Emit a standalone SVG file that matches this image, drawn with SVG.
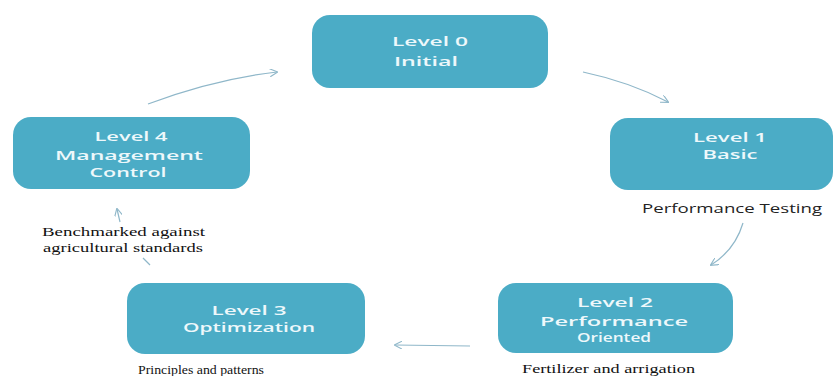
<svg xmlns="http://www.w3.org/2000/svg" width="837" height="376" viewBox="0 0 837 376">
<defs>
<style>
.box{fill:#4bacc6;}
.nt{font-family:"Open Sans","DejaVu Sans",sans-serif;font-weight:600;font-size:13px;fill:#eef8fb;text-anchor:middle;}
.lbl{font-family:"Liberation Serif","DejaVu Serif",serif;font-size:12px;fill:#111;}
.lbls{font-family:"Open Sans","DejaVu Sans",sans-serif;font-size:12px;fill:#222;}
.con{fill:none;stroke:#8fb7c9;stroke-width:1.2;marker-end:url(#ah);}
</style>
<marker id="ah" viewBox="0 0 10 10" refX="9" refY="5" markerWidth="8" markerHeight="8" orient="auto" markerUnits="userSpaceOnUse">
<path d="M0,0 L10,5 L0,10" fill="none" stroke="#8fb7c9" stroke-width="1.4"/>
</marker>
</defs>
<rect width="837" height="376" fill="#ffffff"/>
<g id="connectors">
<path class="con" d="M148,104 Q215,79 277,72"/>
<path class="con" d="M583,72 Q630,82 668,102"/>
<path class="con" d="M743,223 Q735,250 711,265"/>
<path class="con" d="M470,346 L395,345"/>
<path d="M143,258 L150,265" fill="none" stroke="#8fb7c9" stroke-width="1.2"/>
<path class="con" d="M120,222 L117,209"/>
</g>
<g id="level0">
<rect class="box" x="312" y="15" width="236" height="73" rx="18"/>
<text class="nt" x="430" y="46" textLength="76" lengthAdjust="spacingAndGlyphs">Level 0</text>
<text class="nt" x="426" y="66" textLength="64" lengthAdjust="spacingAndGlyphs">Initial</text>
</g>
<g id="level1">
<rect class="box" x="610" y="118" width="223" height="72" rx="18"/>
<text class="nt" x="730" y="142" textLength="74" lengthAdjust="spacingAndGlyphs">Level 1</text>
<text class="nt" x="730" y="159" textLength="55" lengthAdjust="spacingAndGlyphs">Basic</text>
</g>
<g id="level2">
<rect class="box" x="498" y="283" width="235" height="70" rx="18"/>
<text class="nt" x="615" y="307" textLength="76" lengthAdjust="spacingAndGlyphs">Level 2</text>
<text class="nt" x="614" y="326" textLength="148" lengthAdjust="spacingAndGlyphs">Performance</text>
<text class="nt" x="614" y="342" textLength="74" lengthAdjust="spacingAndGlyphs">Oriented</text>
</g>
<g id="level3">
<rect class="box" x="127" y="283" width="238" height="71" rx="18"/>
<text class="nt" x="249" y="315" textLength="75" lengthAdjust="spacingAndGlyphs">Level 3</text>
<text class="nt" x="249" y="332" textLength="132" lengthAdjust="spacingAndGlyphs">Optimization</text>
</g>
<g id="level4">
<rect class="box" x="13" y="117" width="237" height="72" rx="18"/>
<text class="nt" x="131" y="141" textLength="73" lengthAdjust="spacingAndGlyphs">Level 4</text>
<text class="nt" x="129" y="160" textLength="148" lengthAdjust="spacingAndGlyphs">Management</text>
<text class="nt" x="128" y="177" textLength="77" lengthAdjust="spacingAndGlyphs">Control</text>
</g>
<g id="labels">
<text class="lbls" x="642" y="213" textLength="180" lengthAdjust="spacingAndGlyphs">Performance Testing</text>
<text class="lbl" x="42" y="236" textLength="163" lengthAdjust="spacingAndGlyphs">Benchmarked against</text>
<text class="lbl" x="43" y="252" textLength="160" lengthAdjust="spacingAndGlyphs">agricultural standards</text>
<text class="lbl" x="138" y="374" textLength="126" lengthAdjust="spacingAndGlyphs">Principles and patterns</text>
<text class="lbl" x="522" y="373" textLength="173" lengthAdjust="spacingAndGlyphs">Fertilizer and arrigation</text>
</g>
</svg>
